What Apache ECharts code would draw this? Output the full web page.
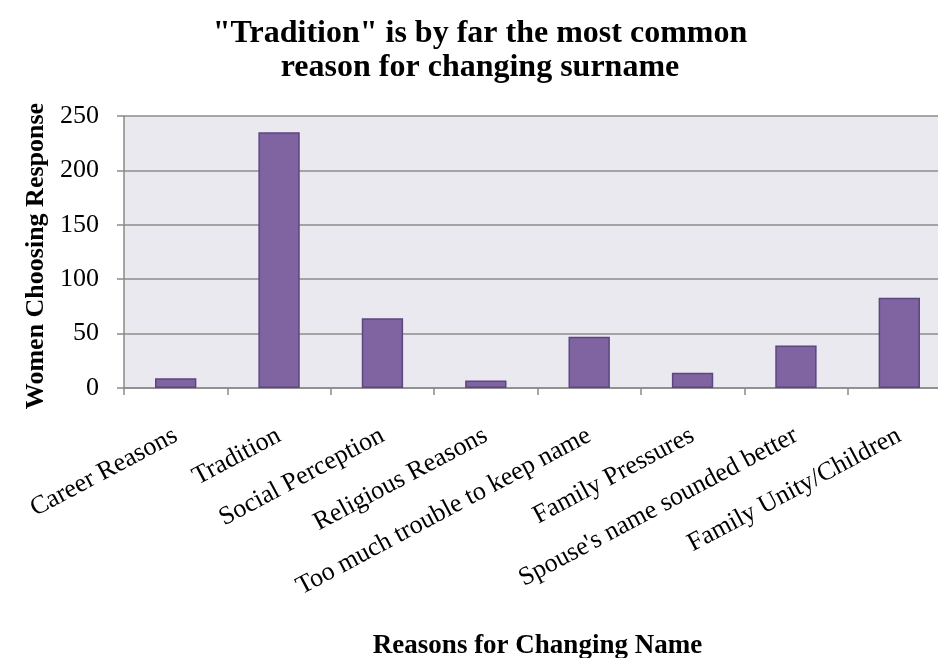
<!DOCTYPE html>
<html>
<head>
<meta charset="utf-8">
<script src="https://cdn.jsdelivr.net/npm/echarts@6/dist/echarts.min.js"></script>
<style>
html,body{margin:0;padding:0;background:#fff;}
#chart{width:938px;height:658px;}
</style>
</head>
<body>
<div id="chart"></div>
<script>
const categories = ["Career Reasons","Tradition","Social Perception","Religious Reasons","Too much trouble to keep name","Family Pressures","Spouse's name sounded better","Family Unity/Children"];
const values = [9, 235, 64, 7, 47, 14, 39, 83];
const yTicks = [0, 50, 100, 150, 200, 250];
const titleText = '"Tradition" is by far the most common\nreason for changing surname';
const xAxisTitle = 'Reasons for Changing Name';
const yAxisTitle = 'Women Choosing Response';

const FONT = '"Liberation Serif", "Times New Roman", serif';
const chart = echarts.init(document.getElementById('chart'), null, {renderer:'canvas'});
chart.setOption({
  animation: false,
  backgroundColor: '#ffffff',
  title: {
    text: titleText,
    left: 475,
    top: 12,
    textAlign: 'center',
    textStyle: {fontFamily: FONT, fontWeight: 'bold', fontSize: 32, lineHeight: 34, color: '#000'}
  },
  grid: {left: 124, top: 116, bottom: 270, right: -13, outerBoundsMode: 'none', containLabel: false,
    show: true, backgroundColor: '#ebe9f0', borderWidth: 0},
  xAxis: {
    type: 'category',
    data: categories,
    name: xAxisTitle,
    nameLocation: 'middle',
    nameGap: 245,
    nameTextStyle: {fontFamily: FONT, fontWeight: 'bold', fontSize: 27, color: '#000'},
    axisLine: {show: true, lineStyle: {color: '#8a8a8a', width: 1.5}},
    axisTick: {show: true, length: 7, inside: false, alignWithLabel: false, lineStyle: {color: '#8a8a8a', width: 1.5}},
    axisLabel: {rotate: 28, margin: 46, interval: 0, fontFamily: FONT, fontSize: 26, color: '#000'},
    splitLine: {show: false}
  },
  yAxis: {
    type: 'value',
    min: 0, max: 250, interval: 50,
    name: yAxisTitle,
    nameLocation: 'middle',
    nameGap: 74,
    nameRotate: 90,
    nameTextStyle: {fontFamily: FONT, fontWeight: 'bold', fontSize: 26, color: '#000', padding: [0, 8, 0, 0]},
    axisLine: {show: true, lineStyle: {color: '#8a8a8a', width: 1.5}},
    axisTick: {show: true, length: 7, lineStyle: {color: '#8a8a8a', width: 1.5}},
    axisLabel: {margin: 25, fontFamily: FONT, fontSize: 26, color: '#000',
      formatter: v => yTicks.includes(v) ? String(v) : ''},
    splitLine: {show: true, lineStyle: {color: '#8c8c8c', width: 1.5}}
  },
  series: [{
    type: 'bar',
    data: values,
    barWidth: '40%',
    itemStyle: {color: '#8064a2', borderColor: '#5c4680', borderWidth: 1.5}
  }]
});
</script>
</body>
</html>
